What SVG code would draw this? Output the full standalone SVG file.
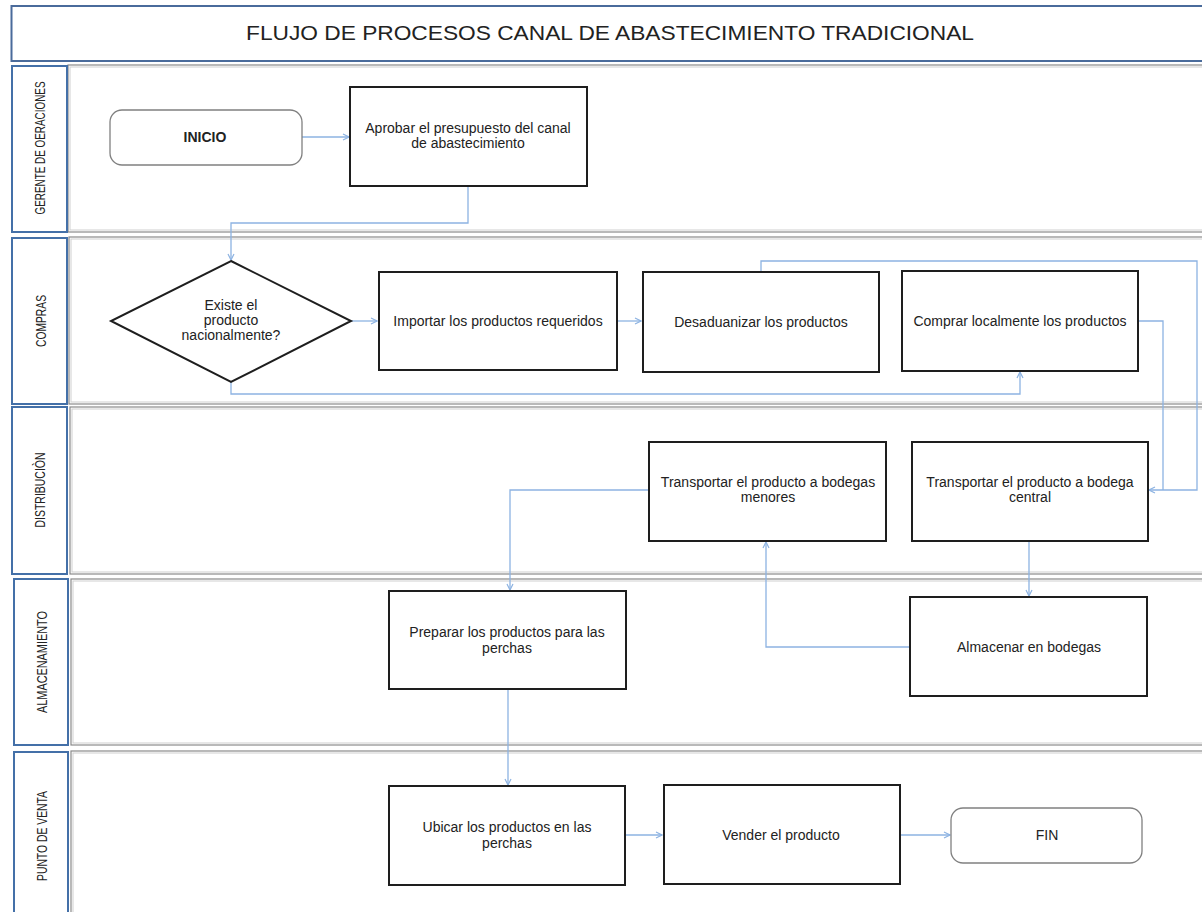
<svg xmlns="http://www.w3.org/2000/svg" width="1202" height="912" viewBox="0 0 1202 912">
<defs>
<marker id="arr" markerWidth="8" markerHeight="8" refX="7" refY="4" orient="auto" markerUnits="userSpaceOnUse">
<path d="M1,1 L7,4 L1,7" fill="none" stroke="#8db3e2" stroke-width="1.2"/>
</marker>
<style>
.lane{fill:#fff;stroke:#8a8a8a;stroke-width:1.2}
.lanein{fill:none;stroke:#cfcfcf;stroke-width:1}
.lbl{fill:#fff;stroke:#4470a8;stroke-width:2}
.lt{font-family:"Liberation Sans",Arial,sans-serif;font-size:15px;fill:#222;text-anchor:middle}
.box{fill:#fff;stroke:#1e1e1e;stroke-width:2}
.term{fill:#fff;stroke:#808080;stroke-width:1.3}
.t{font-family:"Liberation Sans",Arial,sans-serif;font-size:14px;fill:#222;text-anchor:middle}
.c{fill:none;stroke:#8db3e2;stroke-width:1.3}
</style>
</defs>
<rect width="1202" height="912" fill="#fff"/>
<g id="title">
<rect x="11.5" y="6" width="1200" height="55" fill="#fff" stroke="#4a6b9b" stroke-width="2"/>
<text x="610" y="40" font-family="'Liberation Sans',Arial,sans-serif" font-size="21" fill="#222" text-anchor="middle" textLength="728" lengthAdjust="spacingAndGlyphs">FLUJO DE PROCESOS CANAL DE ABASTECIMIENTO TRADICIONAL</text>
</g>
<g id="lanes">
<rect class="lane" x="68" y="65" width="1150" height="167"/><rect class="lanein" x="70" y="67" width="1150" height="163"/>
<rect class="lbl" x="12" y="66" width="55" height="166"/>
<text class="lt" transform="translate(45,148) rotate(-90)" textLength="133" lengthAdjust="spacingAndGlyphs">GERENTE DE OERACIONES</text>
<rect class="lane" x="69" y="237" width="1150" height="167"/><rect class="lanein" x="71" y="239" width="1150" height="163"/>
<rect class="lbl" x="12" y="238" width="55" height="166"/>
<text class="lt" transform="translate(46,321) rotate(-90)" textLength="52" lengthAdjust="spacingAndGlyphs">COMPRAS</text>
<rect class="lane" x="70" y="407" width="1150" height="167"/><rect class="lanein" x="72" y="409" width="1150" height="163"/>
<rect class="lbl" x="12" y="407" width="55" height="167"/>
<text class="lt" transform="translate(45,490) rotate(-90)" textLength="75" lengthAdjust="spacingAndGlyphs">DISTRIBUCIÒN</text>
<rect class="lane" x="71" y="579" width="1150" height="166"/><rect class="lanein" x="73" y="581" width="1150" height="162"/>
<rect class="lbl" x="14" y="579" width="54" height="166"/>
<text class="lt" transform="translate(47,662) rotate(-90)" textLength="102" lengthAdjust="spacingAndGlyphs">ALMACENAMIENTO</text>
<rect class="lane" x="71" y="751" width="1150" height="180"/><rect class="lanein" x="73" y="753" width="1150" height="180"/>
<rect class="lbl" x="14" y="752" width="54" height="180"/>
<text class="lt" transform="translate(47,836) rotate(-90)" textLength="90" lengthAdjust="spacingAndGlyphs">PUNTO DE VENTA</text>
</g>
<g id="connectors">
<path class="c" d="M302,137 H349" marker-end="url(#arr)"/>
<path class="c" d="M468,186 V223 H231 V260" marker-end="url(#arr)"/>
<path class="c" d="M351,321 H377" marker-end="url(#arr)"/>
<path class="c" d="M617,321 H641" marker-end="url(#arr)"/>
<path class="c" d="M231,382 V394 H1020 V372" marker-end="url(#arr)"/>
<path class="c" d="M761,272 V261 H1197 V490 H1149" marker-end="url(#arr)"/>
<path class="c" d="M1138,321 H1163 V490"/>
<path class="c" d="M650,490 H510 V590" marker-end="url(#arr)"/>
<path class="c" d="M1029,541 V596" marker-end="url(#arr)"/>
<path class="c" d="M910,647 H766 V542" marker-end="url(#arr)"/>
<path class="c" d="M508,690 V785" marker-end="url(#arr)"/>
<path class="c" d="M625,835 H662" marker-end="url(#arr)"/>
<path class="c" d="M900,835 H950" marker-end="url(#arr)"/>
</g>
<g id="inicio">
<rect class="term" x="110" y="110" width="192" height="55" rx="12"/>
<text class="t" x="205" y="142" font-size="13" font-weight="bold">INICIO</text>
</g>
<g id="aprobar">
<rect class="box" x="350" y="87" width="237" height="99"/>
<text class="t" x="468" y="133">Aprobar el presupuesto del canal</text>
<text class="t" x="468" y="148">de abastecimiento</text>
</g>
<g id="decision">
<polygon points="231,261 351,321 231,382 111,321" fill="#fff" stroke="#1e1e1e" stroke-width="2"/>
<text class="t" x="231" y="310" font-size="12">Existe el</text>
<text class="t" x="231" y="325" font-size="12">producto</text>
<text class="t" x="231" y="340" font-size="12">nacionalmente?</text>
</g>
<g id="importar">
<rect class="box" x="379" y="272" width="238" height="98"/>
<text class="t" x="498" y="326">Importar los productos requeridos</text>
</g>
<g id="desaduanizar">
<rect class="box" x="643" y="272" width="236" height="100"/>
<text class="t" x="761" y="327">Desaduanizar los productos</text>
</g>
<g id="comprar">
<rect class="box" x="902" y="271" width="236" height="100"/>
<text class="t" x="1020" y="326">Comprar localmente los productos</text>
</g>
<g id="transp-menores">
<rect class="box" x="649" y="442" width="237" height="99"/>
<text class="t" x="768" y="487">Transportar el producto a bodegas</text>
<text class="t" x="768" y="502">menores</text>
</g>
<g id="transp-central">
<rect class="box" x="912" y="442" width="236" height="99"/>
<text class="t" x="1030" y="487">Transportar el producto a bodega</text>
<text class="t" x="1030" y="502">central</text>
</g>
<g id="preparar">
<rect class="box" x="389" y="591" width="237" height="98"/>
<text class="t" x="507" y="637">Preparar los productos para las</text>
<text class="t" x="507" y="653">perchas</text>
</g>
<g id="almacenar">
<rect class="box" x="910" y="597" width="237" height="99"/>
<text class="t" x="1029" y="652">Almacenar en bodegas</text>
</g>
<g id="ubicar">
<rect class="box" x="389" y="786" width="236" height="99"/>
<text class="t" x="507" y="832" font-size="15">Ubicar los productos en las</text>
<text class="t" x="507" y="848" font-size="15">perchas</text>
</g>
<g id="vender">
<rect class="box" x="664" y="785" width="236" height="99"/>
<text class="t" x="781" y="840" font-size="14.5">Vender el producto</text>
</g>
<g id="fin">
<rect class="term" x="951" y="808" width="191" height="55" rx="12"/>
<text class="t" x="1047" y="840" font-size="15">FIN</text>
</g>
</svg>
